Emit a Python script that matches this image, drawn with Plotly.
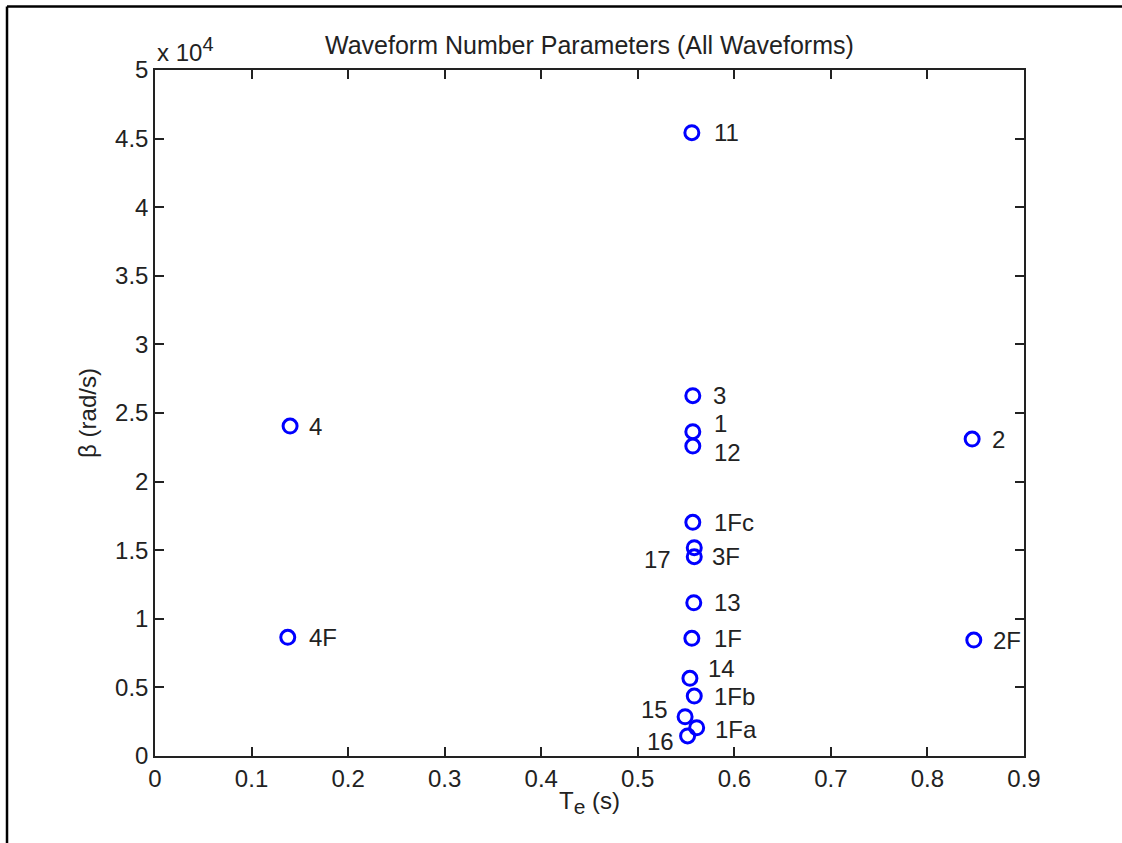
import plotly.graph_objects as go

# Data
labels = ["11", "3", "1", "12", "1Fc", "17", "3F", "13", "1F", "14", "1Fb",
          "15", "1Fa", "16", "4", "4F", "2", "2F"]
te_s = [0.556, 0.557, 0.557, 0.557, 0.557, 0.5585, 0.5585, 0.558, 0.556, 0.554, 0.5585,
        0.549, 0.561, 0.5516, 0.1399, 0.1375, 0.8463, 0.848]
beta_rad_s = [45430, 26260, 23640, 22590, 17030, 15180, 14530, 11170, 8580, 5660, 4370,
              2860, 2060, 1460, 24050, 8650, 23100, 8450]

x_ticks = [0, 0.1, 0.2, 0.3, 0.4, 0.5, 0.6, 0.7, 0.8, 0.9]
y_ticks = [0, 5000, 10000, 15000, 20000, 25000, 30000, 35000, 40000, 45000, 50000]
y_ticktext = ["0", "0.5", "1", "1.5", "2", "2.5", "3", "3.5", "4", "4.5", "5"]

# label placement (pixel offsets: dx, dy-up, anchor)
label_style = {
    "11": (20, 0, "left"), "3": (18, 0, "left"), "1": (19, 8, "left"),
    "12": (19, -6, "left"), "1Fc": (19, 0, "left"), "17": (-21, -12, "right"),
    "3F": (16, 0, "left"), "13": (18, 0, "left"), "1F": (20, 0, "left"),
    "14": (16, 10, "left"), "1Fb": (18, 0, "left"), "15": (-15, 7, "right"),
    "1Fa": (16, -2, "left"), "16": (-12, -6, "right"), "4": (17, 0, "left"),
    "4F": (19, 0, "left"), "2": (18, 0, "left"), "2F": (17, 0, "left"),
}

FONT = "Liberation Sans, Arial, sans-serif"
TXT = "#222222"
FS = 24

fig = go.Figure()
fig.add_trace(go.Scatter(
    x=te_s, y=beta_rad_s, mode="markers",
    marker=dict(symbol="circle-open", size=14, color="#0000ff",
                line=dict(width=3, color="#0000ff")),
    hoverinfo="x+y", showlegend=False,
))

annotations = []
for lab, xv, yv in zip(labels, te_s, beta_rad_s):
    dx, dy, anchor = label_style[lab]
    annotations.append(dict(
        x=xv, y=yv, xref="x", yref="y", text=lab, showarrow=False,
        xanchor=anchor, yanchor="middle", xshift=dx, yshift=dy,
        font=dict(family=FONT, size=FS, color=TXT),
    ))

annotations.append(dict(
    x=0.5, y=1 + (70 - 45) / 686, xref="paper", yref="paper",
    text="Waveform Number Parameters (All Waveforms)", showarrow=False,
    xanchor="center", yanchor="middle",
    font=dict(family=FONT, size=25, color=TXT)))
annotations.append(dict(
    x=0.0, y=1 + (70 - 49) / 686, xref="paper", yref="paper",
    text="x 10<sup><span style='font-size:20px'>4</span></sup>", showarrow=False,
    xanchor="left", yanchor="middle",
    font=dict(family=FONT, size=FS, color=TXT)))

axis_common = dict(
    showgrid=False, zeroline=False, showline=True, linecolor="#222222", linewidth=1.5,
    mirror="ticks", ticks="inside", ticklen=9, tickwidth=1.5, tickcolor="#222222",
    tickfont=dict(family=FONT, size=FS, color=TXT),
)

fig.update_layout(
    width=1122, height=843,
    margin=dict(l=155, r=98, t=70, b=87),
    paper_bgcolor="white", plot_bgcolor="white",
    xaxis=dict(range=[0, 0.9], tickvals=x_ticks, ticktext=[str(v) for v in x_ticks],
               title=dict(text="T<sub><span style='font-size:21px'>e</span></sub> (s)", standoff=2,
                          font=dict(family=FONT, size=FS, color=TXT)),
               **axis_common),
    yaxis=dict(range=[0, 50000], tickvals=y_ticks, ticktext=y_ticktext,
               title=dict(text="β (rad/s)", standoff=12,
                          font=dict(family=FONT, size=FS, color=TXT)),
               **axis_common),
    annotations=annotations,
    shapes=[
        dict(type="line", xref="paper", yref="paper", x0=-0.1703, x1=1.2,
             y0=1.0925, y1=1.0925, line=dict(color="black", width=2.5)),
        dict(type="line", xref="paper", yref="paper", x0=-0.1703, x1=-0.1703,
             y0=-0.2, y1=1.0925, line=dict(color="black", width=2.5)),
    ],
)

fig.write_html("out.html")
